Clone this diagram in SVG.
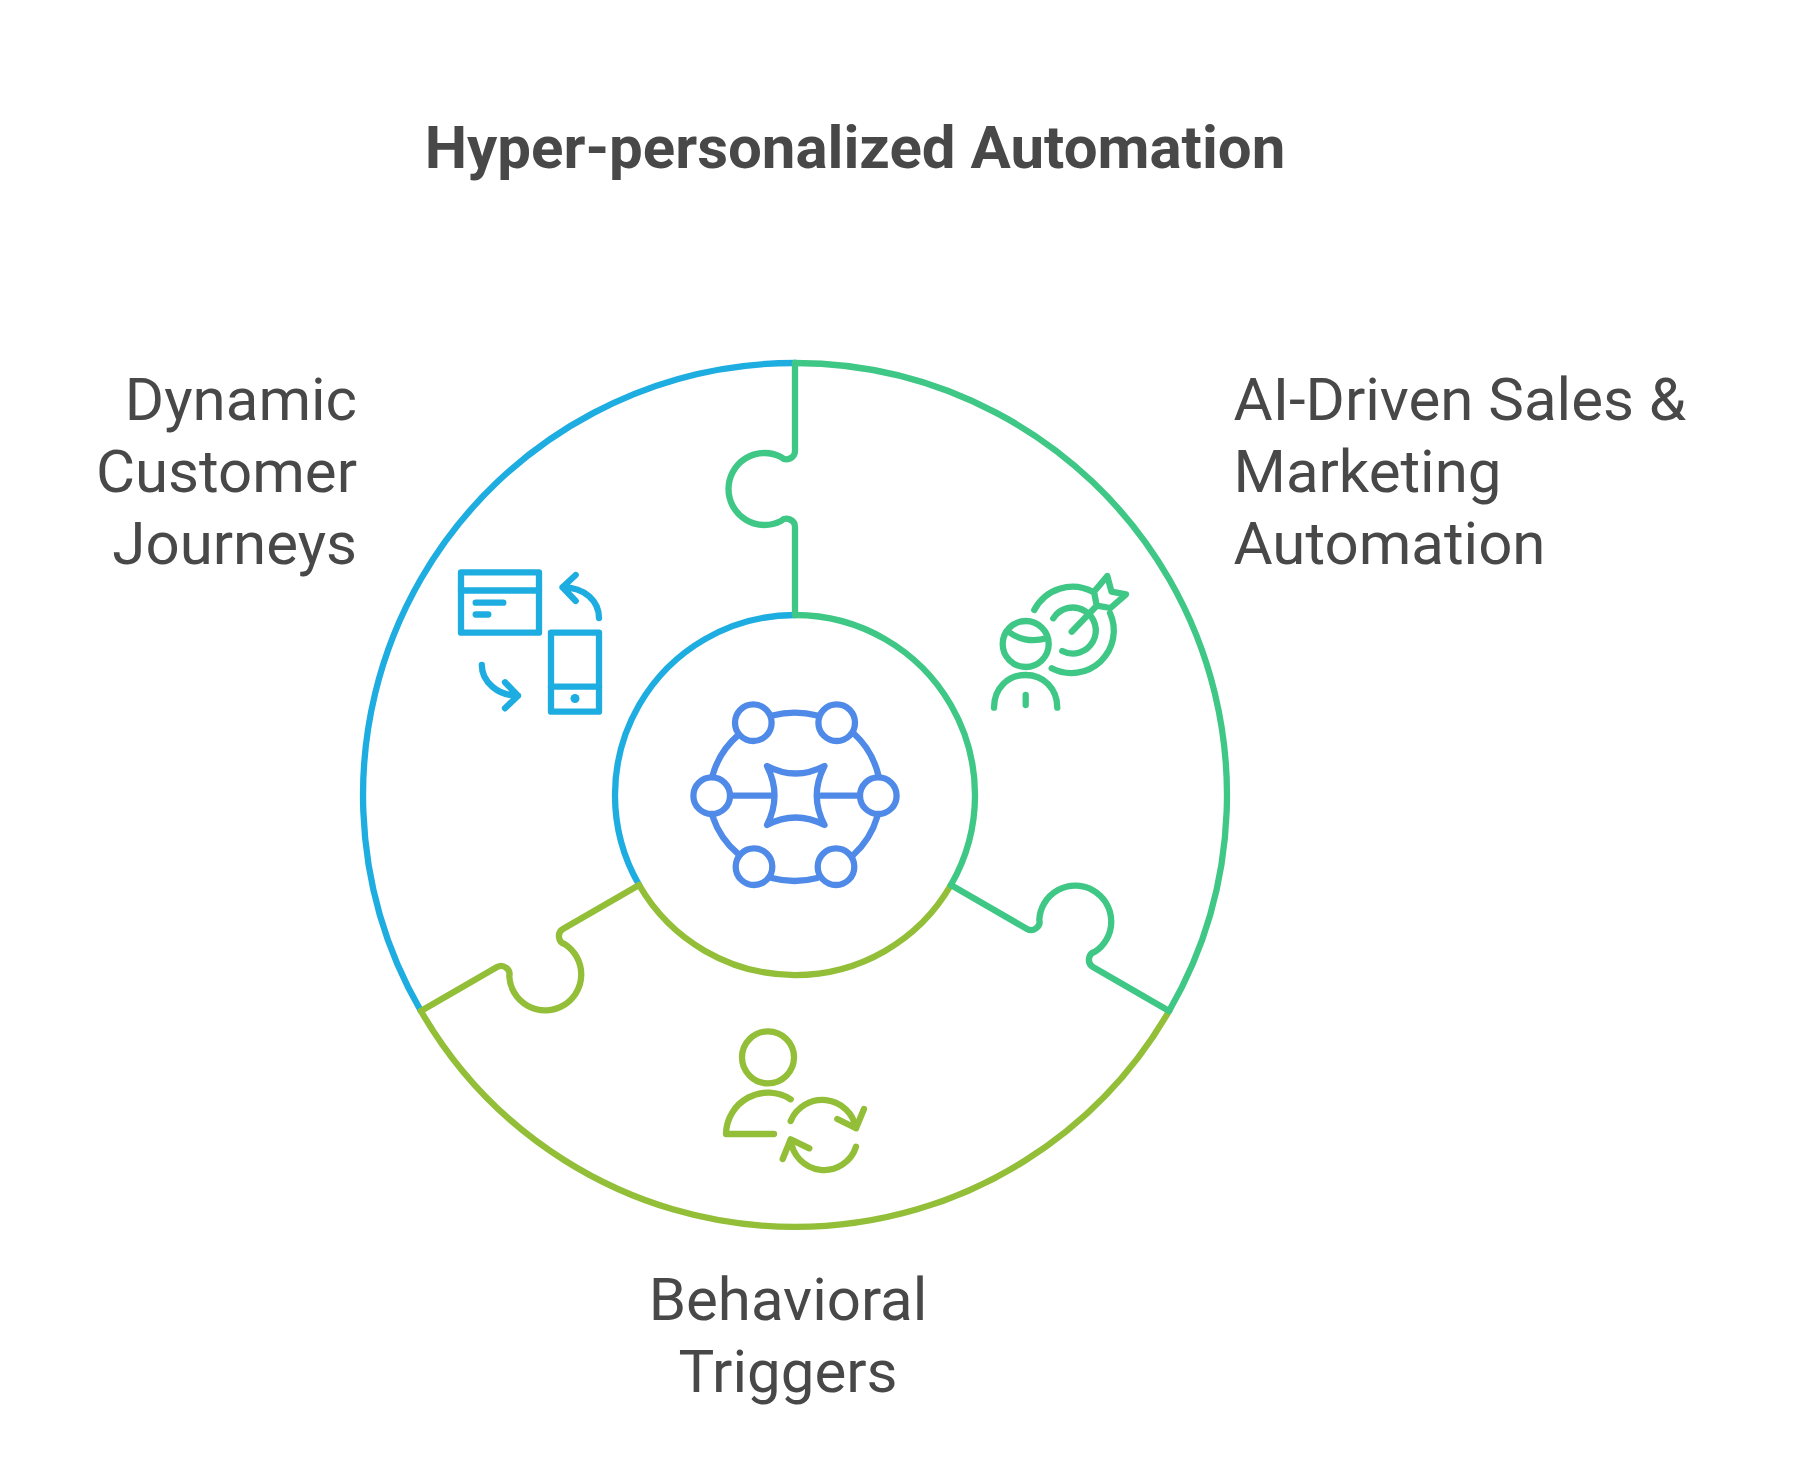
<svg xmlns="http://www.w3.org/2000/svg" width="1807" height="1482" viewBox="0 0 1807 1482">
<style>
.s{fill:none;stroke-width:6.3;stroke-linecap:round;stroke-linejoin:round}
.blue{stroke:#1eade0}.green{stroke:#3fc786}.olive{stroke:#92be38}.hub{stroke:#4f8ae8}
.t{font-family:Roboto,"Liberation Sans",sans-serif;fill:#484848;font-size:60px}
.title{font-weight:700}
</style>
<defs>
<path id="tab" d="M795 363V451C795 458 786 462 781 457A36 36 0 1 0 781 521C786 516 795 520 795 527V615"/>
</defs>
<rect width="1807" height="1482" fill="#fff"/>
<text id="title" class="t title" x="855" y="168" text-anchor="middle">Hyper-personalized Automation</text>
<g id="node-journeys">
<path class="s blue" d="M420.900 1011A432 432 0 0 1 795 363M639.100 885A180 180 0 0 1 795 615"/>
<g class="s blue">
<rect x="461" y="572.300" width="78" height="60.400"/>
<path d="M461 590.500H539M475.700 602.700H503.300M475.700 614.500H488.300"/>
<rect x="551" y="632.700" width="48" height="79"/>
<path d="M551 686.700H599"/>
<path d="M599 618C599 601 585 587.300 562.500 587.300M575.700 575L562.500 587.300L575.700 601"/>
<path d="M481.800 665C481.800 682 498 695.700 518 695.700M505 682.300L518 695.700L505 708.300"/>
</g>
<circle cx="575" cy="698.500" r="4.500" fill="#1eade0"/>
<text class="t" text-anchor="end"><tspan x="357" y="420">Dynamic</tspan><tspan x="357" y="492">Customer</tspan><tspan x="357" y="564">Journeys</tspan></text>
</g>
<g id="node-behavioral">
<path class="s olive" d="M420.900 1011A432 432 0 0 0 1169.100 1011M639.100 885A180 180 0 0 0 950.900 885"/>
<g class="s olive">
<use href="#tab" transform="rotate(240 795 795)"/>
<circle cx="768" cy="1057.300" r="26"/>
<path d="M790.700 1099.300A42 42 0 0 0 726 1134H774"/>
<path d="M790.700 1121A34.200 34.200 0 0 1 856 1128.300M837.300 1119L856 1128.300L864 1109"/>
<path d="M856 1146.700A33.500 33.500 0 0 1 790.700 1139.300M782.700 1159L790.700 1139.300L809.300 1148.300"/>
</g>
<text class="t" text-anchor="middle"><tspan x="788" y="1320">Behavioral</tspan><tspan x="788" y="1392">Triggers</tspan></text>
</g>
<g id="node-ai">
<path class="s green" d="M795 363A432 432 0 0 1 1169.100 1011M795 615A180 180 0 0 1 950.900 885"/>
<g class="s green">
<use href="#tab"/>
<use href="#tab" transform="rotate(120 795 795)"/>
<circle cx="1025.700" cy="644" r="23"/>
<path d="M1010 632.700Q1026 644 1046.700 638.300"/>
<path d="M994 707.700C994 688 1008 675 1025.700 675C1043 675 1057.300 688 1057.300 707.700M1025.700 695V705"/>
<path d="M1034.300 610A43 43 0 0 1 1092.700 591.700M1110 613A42.500 42.500 0 0 1 1051.700 668.300"/>
<path d="M1053.300 618.300A23 23 0 1 1 1062.300 651"/>
<path d="M1071.700 631.700L1096.700 605.700L1094 591.700L1107.300 576L1111.500 591.700L1126 594.300L1110.500 608L1096.700 605.700"/>
</g>
<text class="t"><tspan x="1233.500" y="420">AI-Driven Sales &amp;</tspan><tspan x="1233.500" y="492">Marketing</tspan><tspan x="1233.500" y="564">Automation</tspan></text>
</g>
<g id="node-hub" class="s hub">
<circle cx="753.300" cy="722.700" r="18.300"/>
<circle cx="836.700" cy="722.700" r="18.300"/>
<circle cx="711.700" cy="795.700" r="18.300"/>
<circle cx="878.300" cy="795.700" r="18.300"/>
<circle cx="754" cy="866.700" r="18.300"/>
<circle cx="836" cy="866.700" r="18.300"/>
<path d="M772.300 715.500A90 90 0 0 1 817.300 715.500M853.300 733A83 83 0 0 1 878.300 775M877.300 816.700A83 83 0 0 1 853.300 855M817.300 878A90 90 0 0 1 771.700 878M738.300 854A83 83 0 0 1 712.700 816.700M712.700 775A83 83 0 0 1 738.300 735"/>
<path d="M767 766Q795.500 781 824.500 766Q809 795.500 824.500 825Q795.500 810 767 825Q782 795.500 767 766Z"/>
<path d="M731 795.700H771.700M821 795.700H858.300"/>
</g>
</svg>
